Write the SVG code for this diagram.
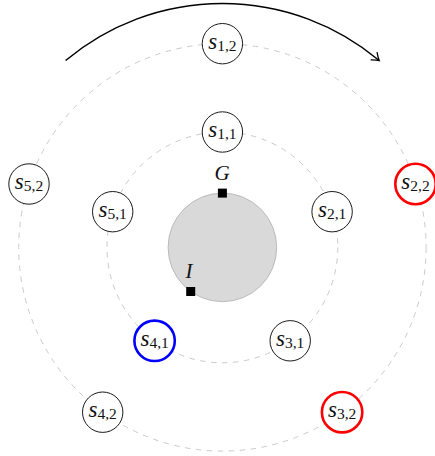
<svg xmlns="http://www.w3.org/2000/svg" width="435" height="456" viewBox="0 0 435 456">
<style>
.orbit{fill:none;stroke:#c4c4c4;stroke-width:0.9;stroke-dasharray:5.5 5.5}
.node circle{fill:#fff;stroke:#000;stroke-width:0.9}
.node.red circle{stroke:#ff0000;stroke-width:2.6}
.node.blue circle{stroke:#0000ff;stroke-width:2.6}
.lbl{font-family:"Liberation Serif","DejaVu Serif",serif;font-size:23px;fill:#111;text-anchor:middle}
.lbl .s{font-style:italic}
.lbl .sub{font-size:15.5px}
.pt{font-family:"Liberation Serif","DejaVu Serif",serif;font-style:italic;font-size:21px;fill:#111;text-anchor:middle}
</style>
<defs>
<marker id="arr" markerWidth="14" markerHeight="14" refX="10" refY="7" orient="auto" markerUnits="userSpaceOnUse">
<path d="M3 2 Q7 5.5 10 7 Q7 8.5 3 12" fill="none" stroke="#000" stroke-width="1.3"/>
</marker>
</defs>
<g id="orbits">
<circle class="orbit" cx="222.4" cy="247.4" r="115.4"/>
<circle class="orbit" cx="222.4" cy="247.4" r="203.7"/>
</g>
<g id="core">
<circle cx="222.4" cy="247.4" r="54.3" fill="#d9d9d9" stroke="#b5b5b5" stroke-width="0.9"/>
<rect x="217.9" y="188.6" width="9" height="9" fill="#000"/>
<text class="pt" x="222" y="180">G</text>
<rect x="186.2" y="287" width="9" height="9" fill="#000"/>
<text class="pt" x="189" y="278">I</text>
</g>
<g id="connectors">
<path d="M 65.6 60.5 A 244 244 0 0 1 379.2 60.5" fill="none" stroke="#000" stroke-width="1.5" marker-end="url(#arr)"/>
</g>
<g id="s11" class="node"><circle cx="222.4" cy="132" r="20.2"/><text class="lbl" x="222.4" y="137"><tspan class="s">s</tspan><tspan class="sub" dy="2">1,1</tspan></text></g>
<g id="s21" class="node"><circle cx="332.1" cy="211.7" r="20.2"/><text class="lbl" x="332.1" y="216.7"><tspan class="s">s</tspan><tspan class="sub" dy="2">2,1</tspan></text></g>
<g id="s31" class="node"><circle cx="290.2" cy="340.8" r="20.2"/><text class="lbl" x="290.2" y="345.8"><tspan class="s">s</tspan><tspan class="sub" dy="2">3,1</tspan></text></g>
<g id="s41" class="node blue"><circle cx="154.6" cy="340.8" r="20.2"/><text class="lbl" x="154.6" y="345.8"><tspan class="s">s</tspan><tspan class="sub" dy="2">4,1</tspan></text></g>
<g id="s51" class="node"><circle cx="112.7" cy="211.7" r="20.2"/><text class="lbl" x="112.7" y="216.7"><tspan class="s">s</tspan><tspan class="sub" dy="2">5,1</tspan></text></g>
<g id="s12" class="node"><circle cx="222.4" cy="43.7" r="20.2"/><text class="lbl" x="222.4" y="48.7"><tspan class="s">s</tspan><tspan class="sub" dy="2">1,2</tspan></text></g>
<g id="s22" class="node red"><circle cx="415.5" cy="184" r="20.2"/><text class="lbl" x="415.5" y="189"><tspan class="s">s</tspan><tspan class="sub" dy="2">2,2</tspan></text></g>
<g id="s32" class="node red"><circle cx="342.1" cy="412.2" r="20.2"/><text class="lbl" x="342.1" y="417.2"><tspan class="s">s</tspan><tspan class="sub" dy="2">3,2</tspan></text></g>
<g id="s42" class="node"><circle cx="102.7" cy="412.2" r="20.2"/><text class="lbl" x="102.7" y="417.2"><tspan class="s">s</tspan><tspan class="sub" dy="2">4,2</tspan></text></g>
<g id="s52" class="node"><circle cx="29" cy="184" r="20.2"/><text class="lbl" x="29" y="189"><tspan class="s">s</tspan><tspan class="sub" dy="2">5,2</tspan></text></g>
</svg>
